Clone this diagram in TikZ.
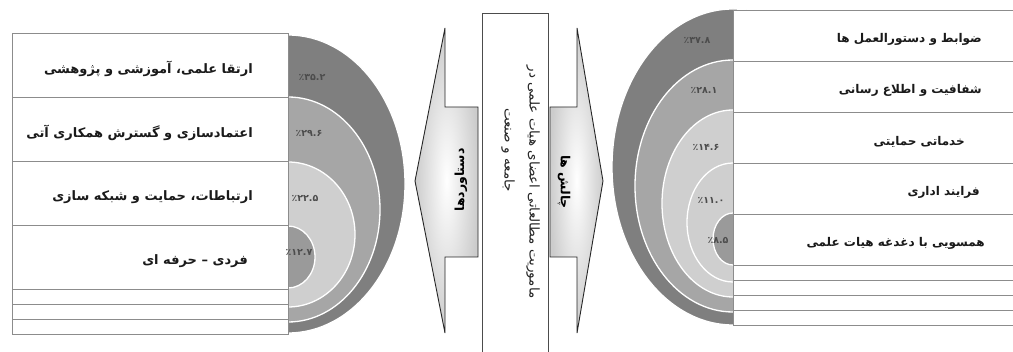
\documentclass[tikz,border=0pt]{standalone}
\usepackage{fontspec}
\newfontfamily\farsi[Script=Arabic]{DejaVu Sans}
\TeXXeTstate=1
\usetikzlibrary{positioning}
\definecolor{ringdk}{HTML}{7F7F7F}
\definecolor{ringmd}{HTML}{A6A6A6}
\definecolor{ringlt}{HTML}{CFCFCF}
\definecolor{ringin}{HTML}{9A9A9A}
\definecolor{rowline}{HTML}{8C8C8C}
\definecolor{inkd}{HTML}{1A1A1A}
\tikzset{
  ring/.style={draw=white, line width=1.3pt},
  rowbig/.style={rectangle, draw=rowline, fill=white, line width=0.8pt, inner sep=0pt,
                 outer sep=0pt, minimum width=276pt, minimum height=64pt},
  rowthin/.style={rowbig, minimum height=15pt},
  rowr/.style={rowbig, minimum width=285pt, minimum height=51pt},
  rowrthin/.style={rowr, minimum height=15pt},
  lbl/.style={font=\farsi\bfseries\fontsize{13}{15}\selectfont, color=inkd, inner sep=0pt, anchor=east},
  lblr/.style={lbl, font=\farsi\bfseries\fontsize{12}{14}\selectfont},
  pct/.style={font=\farsi\bfseries\fontsize{9.5}{11}\selectfont, color=black!70, inner sep=0pt},
  midbox/.style={rectangle, draw=black!70, fill=white, line width=0.9pt, minimum width=66pt,
                 minimum height=350pt, inner sep=0pt},
  midtxt/.style={font=\farsi\fontsize{13.5}{15}\selectfont, color=black!85, rotate=-90, inner sep=0pt},
  arr/.style={draw=black!85, line width=0.9pt, inner color=white, outer color=gray!40},
  arrtxt/.style={font=\farsi\bfseries\fontsize{12.5}{14}\selectfont, inner sep=0pt},
}
\begin{document}
\begin{tikzpicture}[x=1pt, y=-1pt]
  \useasboundingbox (0,0) rectangle (1013,352);
  \fill[ringdk, ring] (288,184) ellipse [x radius=117, y radius=149];
  \fill[ringmd, ring] (288,209.5) ellipse [x radius=92, y radius=112.5];
  \fill[ringlt, ring] (288,234.5) ellipse [x radius=67, y radius=72.5];
  \fill[ringin, ring] (288,257) ellipse [x radius=27, y radius=31];
  \fill[ringdk, ring] (733,167) ellipse [x radius=121, y radius=158];
  \fill[ringmd, ring] (733,186) ellipse [x radius=98, y radius=126];
  \fill[ringlt, ring] (733,203.5) ellipse [x radius=71, y radius=93.5];
  \fill[ringlt, ring] (733,222.5) ellipse [x radius=46, y radius=59.5];
  \fill[ringin, ring] (733,239) ellipse [x radius=20, y radius=26];

  \node[rowbig, anchor=north west] (l1) at (12,33) {};
  \node[rowbig, below=0pt of l1] (l2) {};
  \node[rowbig, below=0pt of l2] (l3) {};
  \node[rowbig, below=0pt of l3] (l4) {};
  \node[rowthin, below=0pt of l4] (l5) {};
  \node[rowthin, below=0pt of l5] (l6) {};
  \node[rowthin, below=0pt of l6] (l7) {};
  \node[lbl] (lt1) at ([xshift=-35pt, yshift=-4pt]l1.east) {\beginR ارتقا علمی، آموزشی و پژوهشی\endR};
  \node[lbl] (lt2) at ([xshift=-35pt, yshift=-4pt]l2.east) {\beginR اعتمادسازی و گسترش همکاری آتی\endR};
  \node[lbl] (lt3) at ([xshift=-35pt, yshift=-4pt]l3.east) {\beginR ارتباطات، حمایت و شبکه سازی\endR};
  \node[lbl] (lt4) at ([xshift=-40pt, yshift=-4pt]l4.east) {\beginR فردی – حرفه ای\endR};

  \node[rowr, anchor=north west] (r1) at (733,10) {};
  \node[rowr, below=0pt of r1] (r2) {};
  \node[rowr, below=0pt of r2] (r3) {};
  \node[rowr, below=0pt of r3] (r4) {};
  \node[rowr, below=0pt of r4] (r5) {};
  \node[rowrthin, below=0pt of r5] (r6) {};
  \node[rowrthin, below=0pt of r6] (r7) {};
  \node[rowrthin, below=0pt of r7] (r8) {};
  \node[rowrthin, below=0pt of r8] (r9) {};
  \node[lblr] (rt1) at ([xshift=-36pt, yshift=-4pt]r1.east) {\beginR ضوابط و دستورالعمل ها\endR};
  \node[lblr] (rt2) at ([xshift=-36pt, yshift=-4pt]r2.east) {\beginR شفافیت و اطلاع رسانی\endR};
  \node[lblr] (rt3) at ([xshift=-53pt, yshift=-4pt]r3.east) {\beginR خدماتی حمایتی\endR};
  \node[lblr] (rt4) at ([xshift=-38pt, yshift=-4pt]r4.east) {\beginR فرایند اداری\endR};
  \node[lblr] (rt5) at ([xshift=-33pt, yshift=-4pt]r5.east) {\beginR همسویی با دغدغه هیات علمی\endR};

  \node[pct] (pl1) at (312,77) {٪۳۵.۲};
  \node[pct] (pl2) at (309,133) {٪۲۹.۶};
  \node[pct] (pl3) at (305,198) {٪۲۲.۵};
  \node[pct] (pl4) at (299,252) {٪۱۲.۷};
  \node[pct] (pr1) at (697,40) {٪۳۷.۸};
  \node[pct] (pr2) at (704,90) {٪۲۸.۱};
  \node[pct] (pr3) at (706,147) {٪۱۴.۶};
  \node[pct] (pr4) at (711,200) {٪۱۱.۰};
  \node[pct] (pr5) at (718,240) {٪۸.۵};

  \node[midbox, anchor=north] (mid) at (515,13) {};
  \node[midtxt] (m1) at (533,182) {\beginR ماموریت مطالعاتی اعضای هیات علمی در\endR};
  \node[midtxt] (m2) at (508,150) {\beginR جامعه و صنعت\endR};

  \path[arr] (415,181) -- (445,28) -- (445,107) -- (478,107) -- (478,257)
    -- (445,257) -- (445,333) -- cycle;
  \node[arrtxt, rotate=90] (ach) at (461,180) {\beginR دستاوردها\endR};
  \path[arr] (603,181) -- (577,28) -- (577,107) -- (550,107) -- (550,257)
    -- (577,257) -- (577,333) -- cycle;
  \node[arrtxt, rotate=-90] (chl) at (564,182) {\beginR چالش ها\endR};
\end{tikzpicture}
\end{document}
